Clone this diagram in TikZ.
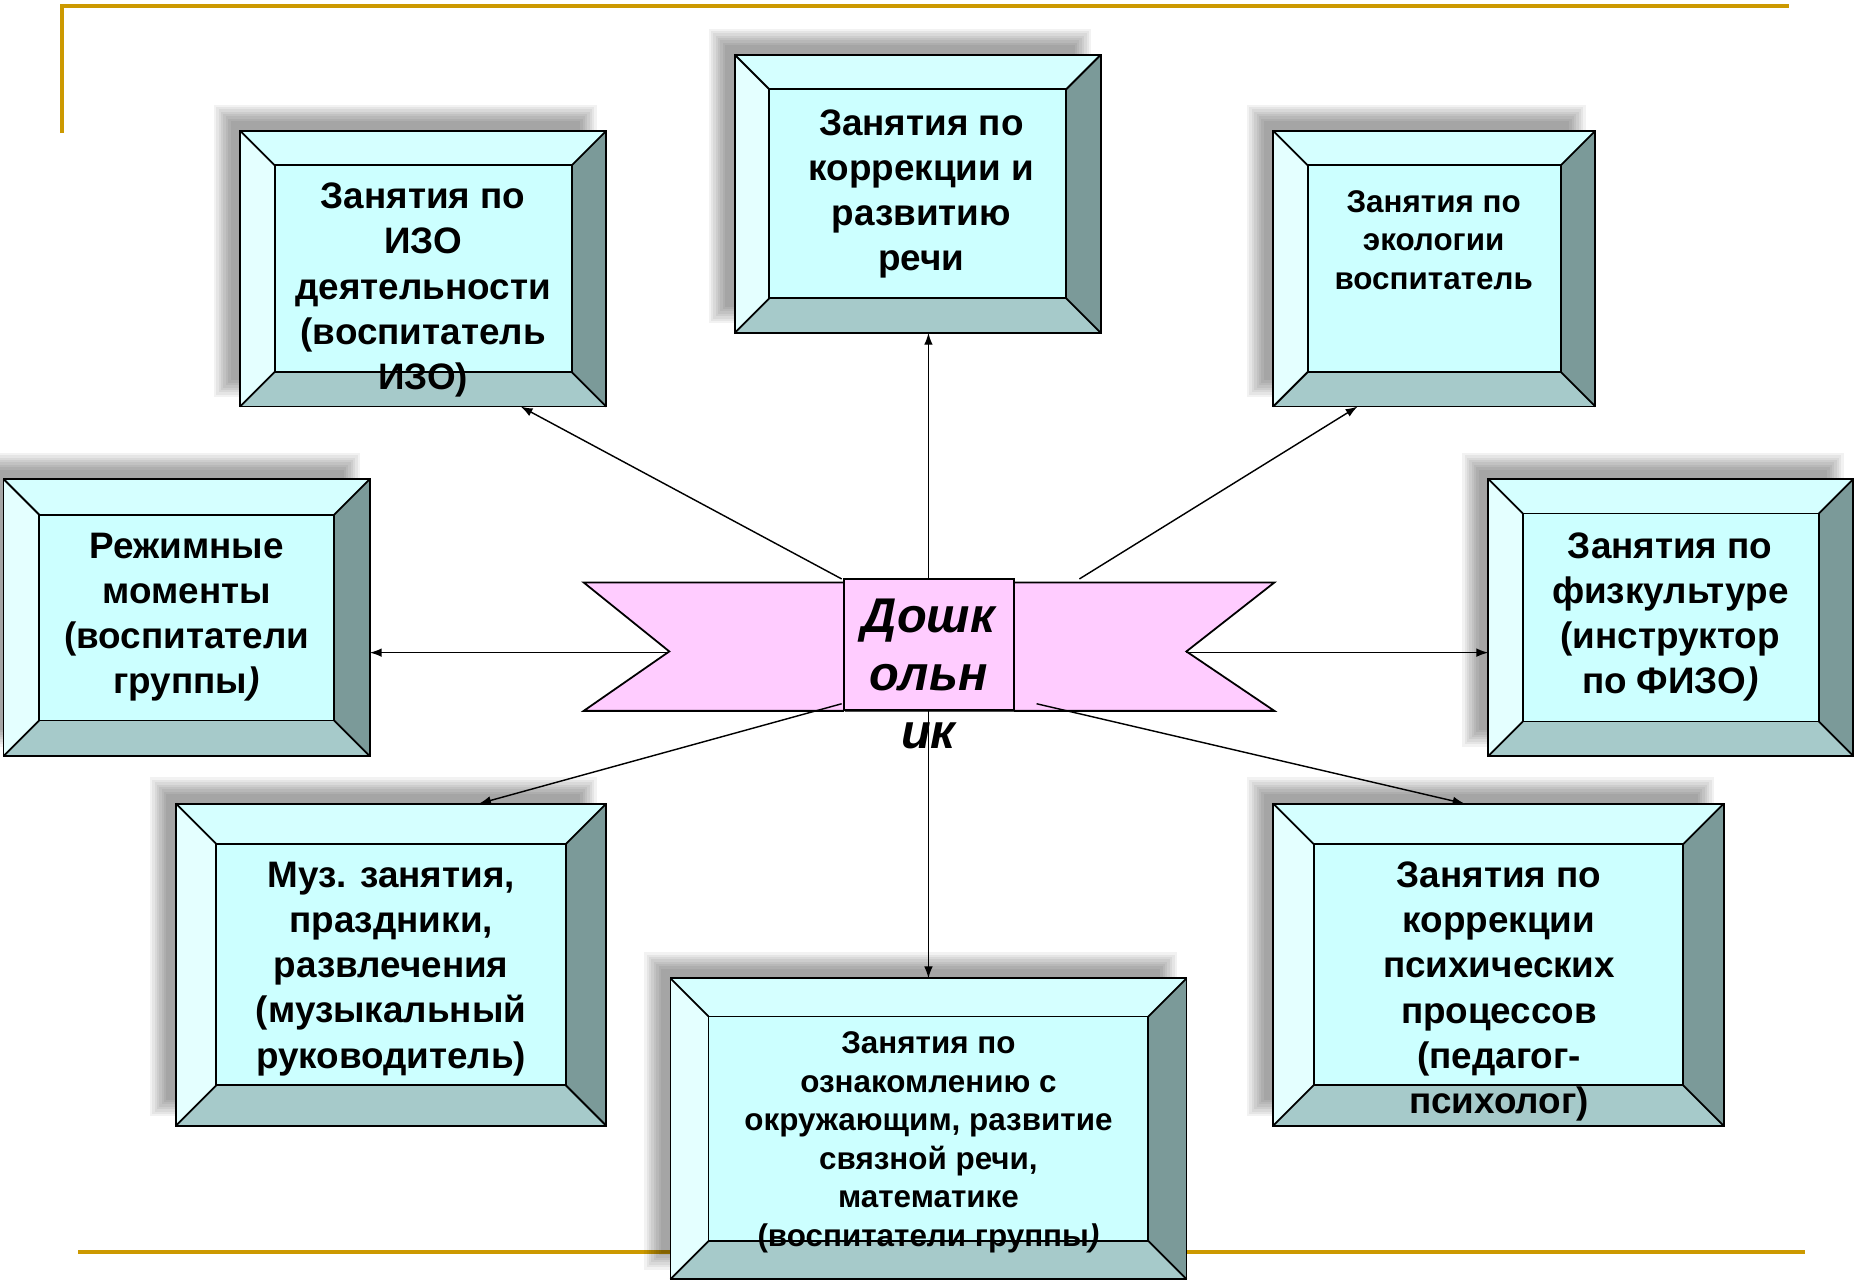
\documentclass[tikz,border=0pt]{standalone}
\usepackage{fontspec}
\setmainfont{Liberation Sans}
\usetikzlibrary{arrows.meta}
\definecolor{goldc}{HTML}{CC9900}
\definecolor{facec}{HTML}{CCFFFF}
\definecolor{topc}{HTML}{D5FFFF}
\definecolor{leftc}{HTML}{E4FFFF}
\definecolor{rightc}{HTML}{7B9A99}
\definecolor{botc}{HTML}{A6CACA}
\definecolor{pinkc}{HTML}{FFCCFF}
\tikzset{
  lbl/.style={align=center, inner sep=0pt, font=\bfseries\fontsize{15.5}{19}\selectfont},
  lblsmall/.style={align=center, inner sep=0pt, font=\bfseries\fontsize{13.2}{16.2}\selectfont},
  edge/.style={line width=0.75pt, black},
  conn/.style={line width=0.6pt, -{Latex[length=5pt,width=3.6pt]}},
  goldline/.style={goldc, line width=1.6pt},
}
% name, x1, y1, x2, y2, bevel
\newcommand\bevbox[6]{%
  \foreach \r in {1,...,8}{%
    \fill[black,opacity=0.052] ({#2-15-(2*\r-9)},{#3-15-(2*\r-9)}) rectangle ({#4-15+(2*\r-9)},{#5-15+(2*\r-9)});}
  \fill[facec] (#2,#3) rectangle (#4,#5);
  \fill[topc] (#2,#3) -- (#4,#3) -- ({#4-#6},{#3+#6}) -- ({#2+#6},{#3+#6}) -- cycle;
  \fill[leftc] (#2,#3) -- ({#2+#6},{#3+#6}) -- ({#2+#6},{#5-#6}) -- (#2,#5) -- cycle;
  \fill[rightc] (#4,#3) -- ({#4-#6},{#3+#6}) -- ({#4-#6},{#5-#6}) -- (#4,#5) -- cycle;
  \fill[botc] (#2,#5) -- ({#2+#6},{#5-#6}) -- ({#4-#6},{#5-#6}) -- (#4,#5) -- cycle;
  \draw[edge] (#2,#3) rectangle (#4,#5);
  \draw[edge] ({#2+#6},{#3+#6}) rectangle ({#4-#6},{#5-#6});
  \draw[edge] (#2,#3) -- ({#2+#6},{#3+#6}) (#4,#3) -- ({#4-#6},{#3+#6})
              (#2,#5) -- ({#2+#6},{#5-#6}) (#4,#5) -- ({#4-#6},{#5-#6});
  \coordinate (#1-nw) at (#2,#3);
  \coordinate (#1-se) at (#4,#5);
}
\begin{document}
\begin{tikzpicture}[x=0.5pt,y=-0.5pt]
\useasboundingbox (0,0) rectangle (1568,1079);
\fill[white] (0,0) rectangle (1568,1079);

% decorative gold lines
\coordinate (g1) at (52,5); \coordinate (g2) at (1505,5); \coordinate (g3) at (52,112);
\coordinate (g4) at (66,1053); \coordinate (g5) at (1518,1053);
\draw[goldline] (g3) -- (g1) -- (g2);
\draw[goldline] (g4) -- (g5);

% boxes
\bevbox{izo}{202}{110}{510}{342}{29}
\bevbox{rech}{618}{46}{926}{280}{29}
\bevbox{eco}{1071}{110}{1342}{342}{29}
\bevbox{rezh}{3}{403}{311}{636}{30}
\bevbox{fizo}{1252}{403}{1559}{636}{29}
\bevbox{muz}{148}{676}{510}{947}{34}
\bevbox{okr}{564}{823}{998}{1076}{32}
\bevbox{psy}{1071}{676}{1450}{947}{34}

% texts
\node[lbl] (izo-t) at (356,244) {Занятия по\\ИЗО\\деятельности\\(воспитатель\\ИЗО)};
\node[lbl] (rech-t) at (775,163) {Занятия по\\коррекции и\\развитию\\речи};
\node[lblsmall] (eco-t) at (1206,202) {Занятия по\\экологии\\воспитатель};
\node[lbl] (rezh-t) at (157,519) {Режимные\\моменты\\(воспитатели\\группы\textit{)}};
\node[lbl] (fizo-t) at (1405,519) {Занятия по\\физкультуре\\(инструктор\\по ФИЗО\textit{)}};
\node[lbl] (muz-t) at (329,815) {Муз. занятия,\\праздники,\\развлечения\\(музыкальный\\руководитель)};
\node[lblsmall] (okr-t) at (781,961) {Занятия по\\ознакомлению с\\окружающим, развитие\\связной речи,\\математике\\(воспитатели группы\textit{)}};
\node[lbl] (psy-t) at (1261,834) {Занятия по\\коррекции\\психических\\процессов\\(педагог-\\психолог)};

% central ribbon
\fill[pinkc, draw=black, line width=0.75pt] (710,490) -- (491,490) -- (563,548) -- (491,598) -- (710,598);
\fill[pinkc, draw=black, line width=0.75pt] (853,490) -- (1072,490) -- (998,548) -- (1072,598) -- (853,598);
\fill[black!70] (711,596) rectangle (853,599);
\draw[edge, fill=pinkc] (710,487) rectangle (853,597);
\coordinate (c-tl) at (708,487);
\coordinate (c-top) at (781,487);
\coordinate (c-tr) at (908,487);
\coordinate (c-l) at (563,549);
\coordinate (c-r) at (998,549);
\coordinate (c-bl) at (708,592);
\coordinate (c-bot) at (781,597);
\coordinate (c-br) at (872,592);
\node[align=center, inner sep=0pt, font=\bfseries\itshape\fontsize{20.5}{24.5}\selectfont] (ctr) at (781,567) {Дошк\\ольн\\ик};

% connection end points on boxes
\coordinate (izo-in) at (438,342);
\coordinate (rech-in) at (781,280);
\coordinate (eco-in) at (1142,342);
\coordinate (rezh-in) at (311,549);
\coordinate (fizo-in) at (1252,549);
\coordinate (muz-in) at (403,676);
\coordinate (okr-in) at (781,823);
\coordinate (psy-in) at (1232,676);

\draw[conn] (c-tl) -- (izo-in);
\draw[conn] (c-top) -- (rech-in);
\draw[conn] (c-tr) -- (eco-in);
\draw[conn] (c-l) -- (rezh-in);
\draw[conn] (c-r) -- (fizo-in);
\draw[conn] (c-bl) -- (muz-in);
\draw[conn] (c-bot) -- (okr-in);
\draw[conn] (c-br) -- (psy-in);
\end{tikzpicture}
\end{document}
